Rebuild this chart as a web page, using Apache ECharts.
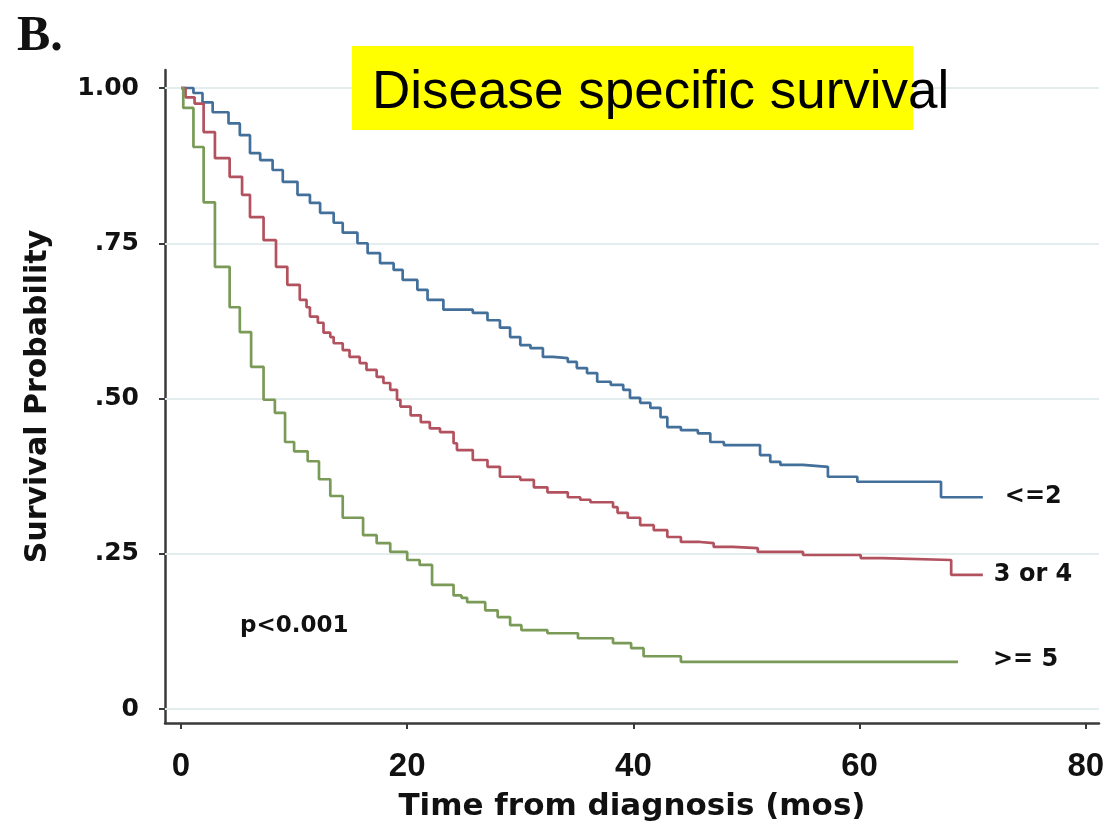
<!DOCTYPE html>
<html>
<head>
    <meta charset="utf-8">
    <title>Disease specific survival</title>
    <script src="https://cdn.jsdelivr.net/npm/echarts@6/dist/echarts.min.js"></script>
    <style>
        html, body { margin: 0; padding: 0; background: #fff; }
        #chart { width: 1112px; height: 834px; }
    </style>
</head>
<body>
    <div id="chart"></div>

    <script>
    // Kaplan-Meier steps: time (months) and survival at that time
    const lowT = [0, 1.1, 1.9, 2.8, 4.2, 5.2, 6.1, 7.0, 8.1, 9.0, 10.3, 11.4, 12.3, 13.5, 14.3, 15.6, 16.5, 17.6, 18.8, 19.6,
        20.9, 21.8, 23.2, 25.8, 27.1, 28.2, 29.1, 30.0, 30.9, 32.0, 32.9, 34.2, 35.0, 35.9, 36.8, 38.0, 39.1, 39.7, 40.6,
        41.5, 42.4, 43.0, 44.2, 45.7, 46.8, 48.0, 51.2, 52.1, 53.0, 55.0, 57.2, 59.8, 67.2, 70.9];
    const lowS = [1.0, 0.992, 0.977, 0.961, 0.943, 0.924, 0.895, 0.884, 0.868, 0.849, 0.828, 0.815, 0.799, 0.783, 0.767, 0.750, 0.734, 0.718, 0.707, 0.691,
        0.675, 0.659, 0.643, 0.638, 0.626, 0.614, 0.599, 0.586, 0.581, 0.567, 0.565, 0.559, 0.549, 0.541, 0.527, 0.522, 0.514, 0.501, 0.493,
        0.485, 0.470, 0.454, 0.449, 0.444, 0.430, 0.425, 0.409, 0.398, 0.393, 0.390, 0.374, 0.366, 0.341, 0.341];

    const midT = [0, 0.4, 1.2, 2.0, 3.0, 4.3, 5.4, 6.1, 7.3, 8.4, 9.4, 10.5, 11.1, 11.4, 12.1, 12.6, 13.2, 13.5, 14.3, 14.9,
        15.8, 16.4, 17.3, 17.9, 18.5, 19.1, 19.4, 20.3, 21.2, 22.0, 22.9, 24.1, 24.4, 25.8, 27.1, 28.2, 30.0, 31.2, 32.4,
        34.2, 35.3, 36.2, 38.2, 38.6, 39.5, 40.6, 41.8, 43.0, 44.2, 45.9, 47.1, 48.8, 51.0, 55.0, 60.1, 62.0, 68.1, 70.9];
    const midS = [1.0, 0.985, 0.975, 0.929, 0.887, 0.857, 0.828, 0.792, 0.755, 0.712, 0.683, 0.659, 0.647, 0.632, 0.622, 0.606, 0.599, 0.589, 0.578, 0.567,
        0.557, 0.546, 0.535, 0.525, 0.514, 0.498, 0.487, 0.473, 0.462, 0.452, 0.446, 0.428, 0.417, 0.401, 0.390, 0.374, 0.369, 0.357, 0.349,
        0.341, 0.337, 0.333, 0.325, 0.316, 0.308, 0.296, 0.288, 0.277, 0.269, 0.267, 0.261, 0.259, 0.253, 0.248, 0.243, 0.240, 0.216, 0.216];

    const highT = [0, 0.2, 1.1, 2.0, 3.0, 4.3, 5.2, 6.2, 7.3, 8.3, 9.2, 10.0, 11.2, 12.2, 13.2, 14.3, 16.1, 17.3, 18.5, 20.0,
        21.1, 22.2, 24.1, 24.8, 25.3, 26.9, 28.0, 29.1, 30.1, 32.4, 35.1, 38.2, 39.8, 40.9, 44.2, 68.7];
    const highS = [1.0, 0.968, 0.905, 0.816, 0.712, 0.647, 0.607, 0.551, 0.498, 0.477, 0.430, 0.415, 0.399, 0.370, 0.343, 0.308, 0.280, 0.267, 0.253, 0.240,
        0.232, 0.200, 0.183, 0.179, 0.172, 0.159, 0.148, 0.135, 0.127, 0.122, 0.114, 0.106, 0.098, 0.085, 0.076, 0.076];

    const groupNames = ['<=2', '3 or 4', '>= 5'];
    const xTicks = [0, 20, 40, 60, 80];
    const yTicks = [0, 0.25, 0.5, 0.75, 1];
    const yTickLabels = ['0', '.25', '.50', '.75', '1.00'];

    function pairs(t, s) {
        return t.map(function (v, i) { return [v, s[i]]; });
    }

    const boldDejavu = { fontFamily: 'DejaVu Sans', fontWeight: 'bold', color: '#111' };

    function curve(name, t, s, color, dist, dy) {
        return {
            name: name,
            type: 'line',
            step: 'end',
            data: pairs(t, s),
            symbol: 'none',
            z: 3,
            lineStyle: { color: color, width: 2.7 },
            endLabel: {
                show: true,
                formatter: name,
                distance: dist,
                offset: [0, dy],
                fontFamily: 'DejaVu Sans',
                fontWeight: 'bold',
                fontSize: 24,
                color: '#111'
            }
        };
    }

    const option = {
        animation: false,
        backgroundColor: '#fff',
        grid: { left: 165, right: 13, top: 70, bottom: 111 },
        xAxis: {
            type: 'value',
            min: -1.415,
            max: 81.17,
            splitLine: { show: false },
            axisLine: { onZero: false, lineStyle: { color: '#3a3a3a', width: 2.5 } },
            axisTick: { customValues: xTicks, length: 6, lineStyle: { color: '#3a3a3a', width: 2 } },
            axisLabel: {
                customValues: xTicks,
                margin: 27,
                fontFamily: 'Liberation Sans',
                fontWeight: 'bold',
                fontSize: 33,
                color: '#111'
            },
            name: 'Time from diagnosis (mos)',
            nameLocation: 'middle',
            nameGap: 68,
            nameTextStyle: Object.assign({ fontSize: 31 }, boldDejavu)
        },
        yAxis: {
            type: 'value',
            min: -0.0225,
            max: 1.029,
            splitLine: { show: false },
            axisLine: { show: true, onZero: false, lineStyle: { color: '#3a3a3a', width: 2.5 } },
            axisTick: { show: true, customValues: yTicks, length: 6, lineStyle: { color: '#3a3a3a', width: 2 } },
            axisLabel: {
                customValues: yTicks,
                margin: 26,
                formatter: function (v) {
                    const i = yTicks.indexOf(v);
                    return i >= 0 ? yTickLabels[i] : '';
                },
                fontFamily: 'DejaVu Sans',
                fontWeight: 'bold',
                fontSize: 25,
                color: '#111'
            },
            name: 'Survival Probability',
            nameLocation: 'middle',
            nameGap: 112,
            nameTextStyle: Object.assign({ fontSize: 30 }, boldDejavu)
        },
        series: [
            {
                // light horizontal grid lines at the y ticks, kept under the curves
                type: 'line',
                data: [],
                z: 1,
                silent: true,
                markLine: {
                    silent: true,
                    z: 1,
                    symbol: 'none',
                    label: { show: false },
                    lineStyle: { color: '#e4eded', width: 2, type: 'solid' },
                    data: yTicks.map(function (v) { return { yAxis: v }; })
                }
            },
            curve(groupNames[0], lowT, lowS, '#436f9b', 22, 0),
            curve(groupNames[1], midT, midS, '#b3525f', 11, 0),
            curve(groupNames[2], highT, highS, '#7a9a57', 35, -2)
        ],
        graphic: [
            {
                type: 'text',
                left: 17,
                top: 12,
                style: { text: 'B.', font: 'bold 50px "Liberation Serif"', fill: '#111' }
            },
            {
                type: 'rect',
                shape: { x: 352, y: 46, width: 561, height: 84 },
                style: { fill: '#ffff00' },
                z: 10
            },
            {
                type: 'text',
                x: 372,
                y: 93,
                z: 11,
                style: {
                    text: 'Disease specific survival',
                    font: '53px "Liberation Sans"',
                    fill: '#000',
                    verticalAlign: 'middle'
                }
            },
            {
                type: 'text',
                x: 240,
                y: 626,
                style: {
                    text: 'p<0.001',
                    font: 'bold 23px "DejaVu Sans"',
                    fill: '#111',
                    verticalAlign: 'middle'
                }
            }
        ]
    };

    const chart = echarts.init(document.getElementById('chart'));
    chart.setOption(option);
    </script>
</body>
</html>
